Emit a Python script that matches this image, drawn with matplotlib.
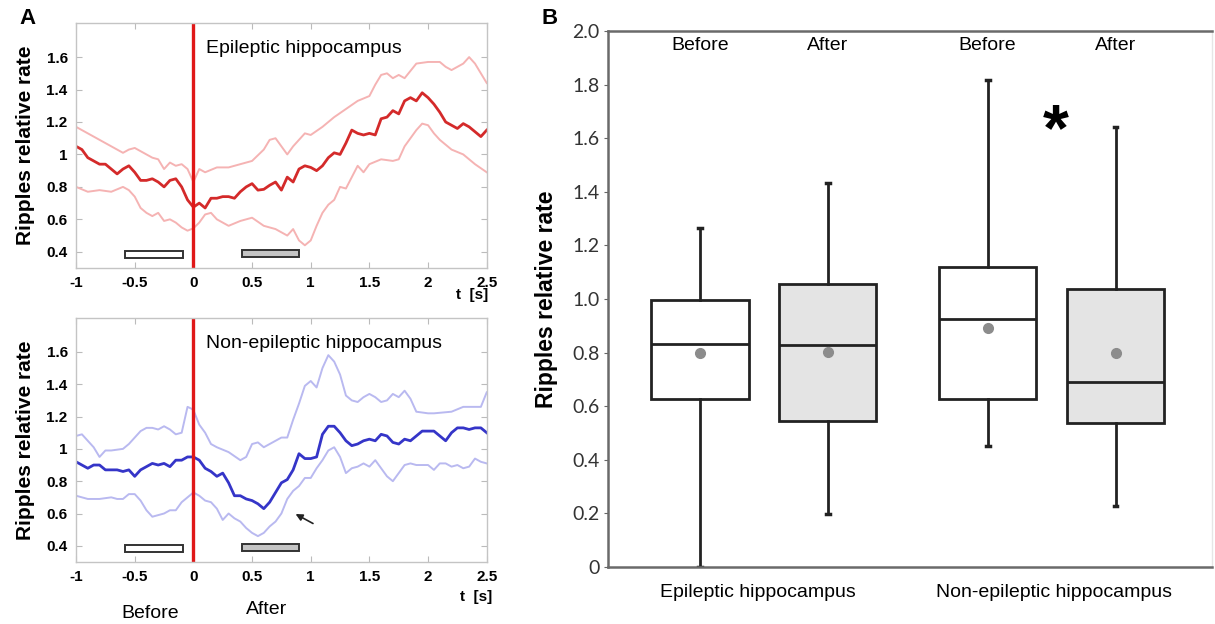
import numpy as np
import matplotlib.pyplot as plt
from matplotlib.patches import Rectangle

plt.rcParams['font.family'] = ['Liberation Sans', 'DejaVu Sans']

# ---- panel A, top: epileptic hippocampus ----
t_mean = np.round(np.arange(-1.0, 2.501, 0.05), 2)
epi_mean = [1.05, 1.03, 0.98, 0.96, 0.94, 0.94, 0.91, 0.88, 0.91, 0.93,
            0.89, 0.84, 0.84, 0.85, 0.83, 0.80, 0.84, 0.85, 0.80, 0.72,
            0.675, 0.70, 0.67, 0.73, 0.73, 0.74, 0.74, 0.73, 0.77, 0.80,
            0.82, 0.78, 0.785, 0.81, 0.83, 0.78, 0.86, 0.83, 0.91, 0.93,
            0.92, 0.90, 0.93, 0.98, 1.01, 1.00, 1.07, 1.15, 1.13, 1.12,
            1.13, 1.12, 1.22, 1.23, 1.27, 1.25, 1.33, 1.35, 1.33, 1.38,
            1.35, 1.31, 1.26, 1.20, 1.18, 1.16, 1.19, 1.17, 1.14, 1.11, 1.15]

epi_hi_t = [-1, -0.9, -0.8, -0.7, -0.6, -0.55, -0.5, -0.45, -0.4, -0.35, -0.3,
            -0.25, -0.2, -0.15, -0.1, -0.05, 0, 0.05, 0.1, 0.2, 0.3, 0.4, 0.5,
            0.6, 0.65, 0.7, 0.75, 0.8, 0.85, 0.9, 0.95, 1.0, 1.1, 1.2, 1.3,
            1.4, 1.5, 1.55, 1.6, 1.65, 1.7, 1.75, 1.8, 1.9, 2.0, 2.1, 2.15,
            2.2, 2.3, 2.35, 2.4, 2.5]
epi_hi = [1.17, 1.13, 1.09, 1.05, 1.01, 1.03, 1.04, 1.02, 1.00, 0.98, 0.97,
          0.91, 0.95, 0.93, 0.94, 0.91, 0.83, 0.91, 0.89, 0.92, 0.92, 0.94, 0.96,
          1.03, 1.09, 1.10, 1.05, 1.00, 1.05, 1.09, 1.13, 1.12, 1.17, 1.23, 1.28,
          1.33, 1.36, 1.43, 1.49, 1.50, 1.47, 1.49, 1.47, 1.56, 1.57, 1.57, 1.54,
          1.52, 1.56, 1.60, 1.56, 1.44]

epi_lo_t = [-1, -0.9, -0.8, -0.7, -0.6, -0.55, -0.5, -0.45, -0.4, -0.35, -0.3,
            -0.25, -0.2, -0.15, -0.1, -0.05, 0, 0.05, 0.1, 0.15, 0.2, 0.3, 0.4,
            0.5, 0.6, 0.7, 0.8, 0.85, 0.9, 0.95, 1.0, 1.05, 1.1, 1.15, 1.2,
            1.25, 1.3, 1.35, 1.4, 1.45, 1.5, 1.6, 1.7, 1.75, 1.8, 1.9, 1.95,
            2.0, 2.05, 2.1, 2.2, 2.3, 2.4, 2.5]
epi_lo = [0.80, 0.77, 0.78, 0.77, 0.80, 0.78, 0.74, 0.67, 0.64, 0.62, 0.64,
          0.59, 0.60, 0.58, 0.55, 0.53, 0.545, 0.58, 0.63, 0.64, 0.60, 0.56, 0.59,
          0.61, 0.56, 0.54, 0.50, 0.54, 0.47, 0.44, 0.47, 0.56, 0.64, 0.69, 0.72,
          0.80, 0.79, 0.86, 0.93, 0.89, 0.94, 0.97, 0.96, 0.97, 1.05, 1.15, 1.19,
          1.18, 1.13, 1.09, 1.03, 1.00, 0.94, 0.89]

# ---- panel A, bottom: non-epileptic hippocampus ----
non_mean = [0.92, 0.90, 0.88, 0.90, 0.90, 0.87, 0.87, 0.87, 0.86, 0.87,
            0.83, 0.87, 0.89, 0.91, 0.90, 0.91, 0.89, 0.93, 0.93, 0.95,
            0.95, 0.93, 0.88, 0.86, 0.83, 0.85, 0.79, 0.71, 0.71, 0.69,
            0.68, 0.66, 0.63, 0.67, 0.73, 0.79, 0.81, 0.87, 0.97, 0.94,
            0.94, 0.95, 1.09, 1.14, 1.14, 1.10, 1.05, 1.02, 1.03, 1.05,
            1.06, 1.05, 1.09, 1.08, 1.04, 1.03, 1.06, 1.05, 1.08, 1.11,
            1.11, 1.11, 1.08, 1.05, 1.10, 1.13, 1.13, 1.12, 1.13, 1.13, 1.10]

non_hi_t = [-1, -0.95, -0.9, -0.85, -0.8, -0.75, -0.7, -0.6, -0.55, -0.5, -0.45,
            -0.4, -0.35, -0.3, -0.25, -0.2, -0.15, -0.1, -0.05, -0.02, 0, 0.05,
            0.1, 0.15, 0.2, 0.3, 0.4, 0.45, 0.5, 0.55, 0.6, 0.7, 0.75, 0.8, 0.85,
            0.9, 0.95, 1.0, 1.05, 1.1, 1.15, 1.2, 1.25, 1.3, 1.35, 1.4, 1.45,
            1.5, 1.55, 1.6, 1.65, 1.7, 1.75, 1.8, 1.85, 1.9, 2.0, 2.05, 2.2,
            2.3, 2.4, 2.45, 2.5]
non_hi = [1.08, 1.09, 1.05, 1.01, 0.95, 0.99, 0.99, 1.00, 1.03, 1.07, 1.11,
          1.13, 1.13, 1.12, 1.14, 1.12, 1.09, 1.10, 1.26, 1.25, 1.24, 1.15,
          1.10, 1.03, 1.01, 0.98, 0.93, 0.95, 1.03, 1.04, 1.01, 1.05, 1.07, 1.07, 1.18,
          1.28, 1.39, 1.42, 1.38, 1.50, 1.58, 1.54, 1.46, 1.33, 1.30, 1.29, 1.32,
          1.34, 1.32, 1.29, 1.30, 1.34, 1.32, 1.36, 1.31, 1.23, 1.22, 1.22, 1.23,
          1.26, 1.26, 1.26, 1.35]

non_lo_t = [-1, -0.9, -0.8, -0.7, -0.65, -0.6, -0.55, -0.5, -0.45, -0.4, -0.35,
            -0.3, -0.25, -0.2, -0.15, -0.1, -0.05, 0, 0.05, 0.1, 0.15, 0.2, 0.25,
            0.3, 0.35, 0.4, 0.45, 0.5, 0.55, 0.6, 0.65, 0.7, 0.75, 0.8, 0.85,
            0.9, 0.95, 1.0, 1.05, 1.1, 1.15, 1.2, 1.25, 1.3, 1.35, 1.4, 1.45,
            1.5, 1.55, 1.6, 1.65, 1.7, 1.75, 1.8, 1.85, 1.9, 2.0, 2.05, 2.1,
            2.15, 2.2, 2.25, 2.3, 2.35, 2.4, 2.45, 2.5]
non_lo = [0.71, 0.69, 0.69, 0.70, 0.69, 0.69, 0.72, 0.72, 0.68, 0.62, 0.58,
          0.59, 0.60, 0.62, 0.62, 0.67, 0.70, 0.73, 0.71, 0.68, 0.67, 0.63, 0.56,
          0.60, 0.57, 0.55, 0.51, 0.48, 0.46, 0.48, 0.52, 0.55, 0.60, 0.69, 0.74,
          0.77, 0.82, 0.82, 0.88, 0.93, 0.99, 1.01, 0.95, 0.85, 0.88, 0.89, 0.91,
          0.89, 0.93, 0.88, 0.83, 0.80, 0.85, 0.90, 0.91, 0.90, 0.90, 0.87, 0.91,
          0.91, 0.89, 0.90, 0.88, 0.89, 0.94, 0.92, 0.91]

# time windows (s)
before_win = (-0.58, -0.09)
after_win = (0.41, 0.90)

# ---- panel B: box statistics ----
box_labels = ['Before', 'After', 'Before', 'After']
box_pos = [1, 2, 3.25, 4.25]
q1 = [0.627, 0.545, 0.627, 0.537]
med = [0.832, 0.830, 0.925, 0.690]
q3 = [0.996, 1.056, 1.120, 1.037]
whis_lo = [0.0, 0.198, 0.451, 0.228]
whis_hi = [1.265, 1.433, 1.817, 1.640]
means = [0.800, 0.802, 0.893, 0.800]
box_fill = ['white', '#e4e4e4', 'white', '#e4e4e4']
group_labels = ['Epileptic hippocampus', 'Non-epileptic hippocampus']
group_pos = [1.45, 3.77]

fig = plt.figure(figsize=(12.15, 6.24), dpi=100)

ax1 = fig.add_axes([0.0626, 0.5705, 0.338, 0.3926])
ax2 = fig.add_axes([0.0626, 0.0994, 0.338, 0.391])
axb = fig.add_axes([0.5004, 0.0913, 0.4975, 0.859])


def style_a(ax, title, mean, hi_t, hi, lo_t, lo, dark, light):
    ax.plot(hi_t, hi, color=light, lw=1.4)
    ax.plot(lo_t, lo, color=light, lw=1.4)
    ax.plot(t_mean, mean, color=dark, lw=2.0)
    ax.axvline(0, color='#e01818', lw=2.4)
    ax.add_patch(Rectangle((before_win[0], 0.36), before_win[1] - before_win[0], 0.043,
                           facecolor='white', edgecolor='#333333', lw=1.4))
    ax.add_patch(Rectangle((after_win[0], 0.365), after_win[1] - after_win[0], 0.045,
                           facecolor='#c4c4c4', edgecolor='#333333', lw=1.4))
    ax.set_xlim(-1, 2.5)
    ax.set_ylim(0.3, 1.81)
    ax.set_xticks([-1, -0.5, 0, 0.5, 1, 1.5, 2, 2.5])
    ax.set_xticklabels(['-1', '-0.5', '0', '0.5', '1', '1.5', '2', '2.5'])
    ax.set_yticks([0.4, 0.6, 0.8, 1.0, 1.2, 1.4, 1.6])
    ax.set_yticklabels(['0.4', '0.6', '0.8', '1', '1.2', '1.4', '1.6'])
    ax.tick_params(direction='in', length=4, color='#bbbbbb', top=True, right=True,
                   labelsize=11, pad=6)
    for lab in ax.get_xticklabels() + ax.get_yticklabels():
        lab.set_fontweight('bold')
    for s in ax.spines.values():
        s.set_color('#c4c4c4')
        s.set_linewidth(1.0)
    ax.set_ylabel('Ripples relative rate', fontsize=15, fontweight='bold', labelpad=8)
    ax.text(0.105, 1.65, title, fontsize=14, va='center', ha='left')


style_a(ax1, 'Epileptic hippocampus', epi_mean, epi_hi_t, epi_hi, epi_lo_t, epi_lo,
        '#d42a2a', '#f5b3b3')
style_a(ax2, 'Non-epileptic hippocampus', non_mean, non_hi_t, non_hi, non_lo_t, non_lo,
        '#3535c8', '#b9b9f0')

ax1.text(0.965, -0.11, 't  [s]', transform=ax1.transAxes, fontsize=11,
         fontweight='bold', ha='center', va='center')
ax2.text(0.975, -0.145, 't  [s]', transform=ax2.transAxes, fontsize=11,
         fontweight='bold', ha='center', va='center')

ax2.annotate('', xy=(0.85, 0.605), xytext=(1.04, 0.53),
             arrowprops=dict(arrowstyle='-|>', color='#222222', lw=1.2,
                             mutation_scale=10))

fig.text(150 / 1215, 1 - 613 / 624, 'Before', fontsize=14, ha='center', va='center')
fig.text(267 / 1215, 1 - 610 / 624, 'After', fontsize=14, ha='center', va='center')
fig.text(28 / 1215, 1 - 18 / 624, 'A', fontsize=16, fontweight='bold', ha='center', va='center')
fig.text(550 / 1215, 1 - 18 / 624, 'B', fontsize=16, fontweight='bold', ha='center', va='center')

# ---- panel B ----
stats = []
for i in range(4):
    stats.append(dict(q1=q1[i], med=med[i], q3=q3[i], whislo=whis_lo[i],
                      whishi=whis_hi[i], mean=means[i], fliers=[], label=box_labels[i]))

bp = axb.bxp(stats, positions=box_pos, widths=0.76, showmeans=True, patch_artist=True,
             capwidths=0.03,
             boxprops=dict(edgecolor='#222222', linewidth=2.0),
             medianprops=dict(color='#222222', linewidth=2.0),
             whiskerprops=dict(color='#222222', linewidth=2.0),
             capprops=dict(color='#222222', linewidth=2.5),
             meanprops=dict(marker='o', markerfacecolor='#8c8c8c',
                            markeredgecolor='#8c8c8c', markersize=7))
for patch, c in zip(bp['boxes'], box_fill):
    patch.set_facecolor(c)

axb.set_xlim(0.281, 5.008)
axb.set_ylim(0, 2.0)
axb.set_yticks([0, 0.2, 0.4, 0.6, 0.8, 1.0, 1.2, 1.4, 1.6, 1.8, 2.0])
axb.set_yticklabels(['0', '0.2', '0.4', '0.6', '0.8', '1.0', '1.2', '1.4', '1.6', '1.8', '2.0'],
                    fontfamily='Lato')
axb.tick_params(axis='y', direction='out', length=3, color='#666666', labelsize=14,
                labelcolor='#333333', pad=3)
axb.set_xticks(group_pos)
axb.set_xticklabels(group_labels, fontsize=14)
axb.tick_params(axis='x', length=0, pad=12)
for name, s in axb.spines.items():
    s.set_color('#6a6a6a')
    s.set_linewidth(1.8)
axb.spines['right'].set_color('#e6e6e6')
axb.spines['right'].set_linewidth(1.0)
axb.set_ylabel('Ripples relative rate', fontsize=16.5, fontweight='bold', labelpad=10)

for p, lab in zip(box_pos, box_labels):
    axb.text(p, 1.945, lab, fontsize=14, ha='center', va='center')
axb.text(3.78, 1.62, '*', fontsize=48, fontweight='bold', ha='center', va='center')

fig.savefig('out.png', dpi=100)
